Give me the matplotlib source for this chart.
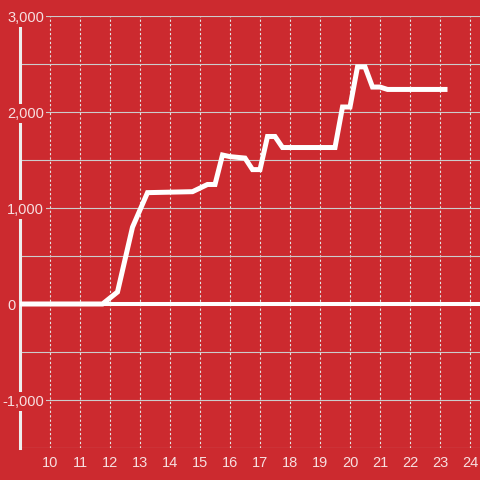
import matplotlib
matplotlib.use("Agg")
import matplotlib.pyplot as plt

# data (hour of day, value)
hours = [9.0, 11.75, 12.25, 12.75, 13.25, 14.75, 15.25, 15.5, 15.75, 16.0,
         16.5, 16.75, 17.0, 17.25, 17.5, 17.75, 19.5, 19.75, 20.0, 20.25,
         20.5, 20.75, 21.0, 21.25, 23.25]
values = [0, 0, 125, 800, 1160, 1170, 1245, 1245, 1552, 1535,
          1520, 1400, 1400, 1745, 1745, 1630, 1630, 2052, 2052, 2470,
          2470, 2260, 2260, 2235, 2235]

x_ticks = list(range(10, 25))
y_grid = list(range(-1500, 3001, 500))
y_labelled = [3000, 2000, 1000, 0, -1000]

bg = "#cc2a2f"
txt = "#f7dfe0"
plt.rcParams["font.family"] = ["Liberation Sans", "DejaVu Sans"]

fig = plt.figure(figsize=(4.8, 4.8), dpi=100, facecolor=bg)
ax = fig.add_axes([20 / 480, 32 / 480, 460 / 480, 432 / 480])
ax.set_facecolor(bg)
for s in ax.spines.values():
    s.set_visible(False)

ax.set_xlim(9.0, 9.0 + 460 / 30)
ax.set_ylim(-1500, 3000)
ax.set_xticks(x_ticks)
ax.set_yticks(y_grid)
ax.tick_params(length=0, labelleft=False, labelsize=10.5, labelcolor=txt, pad=13.7)
for lab in ax.get_xticklabels():
    lab.set_va("baseline")

ax.grid(axis="y", color="#cccccc", lw=0.8, zorder=1)
ax.grid(axis="x", color="#e4e4e4", lw=0.8, linestyle=(0, (2, 2)), zorder=1)
ax.set_axisbelow(True)

ax.axhline(0, color="white", lw=2.9, zorder=2)
ax.axvline(9.0, color="#eeeeee", lw=2.2, zorder=2, clip_on=False)

ax.plot(hours, values, color="white", lw=3.6, solid_joinstyle="miter",
        solid_capstyle="butt", zorder=3)

for v in y_labelled:
    dx = -17.6 if v < 0 else -13
    ax.annotate(f"{v:,}", xy=(0, v), xycoords=("axes fraction", "data"),
                xytext=(dx, -5.5), textcoords="offset pixels",
                ha="left", va="baseline", fontsize=10.5, color=txt,
                annotation_clip=False, zorder=5,
                bbox=dict(boxstyle="square,pad=0.15", fc=bg, ec="none"))

fig.savefig("out.png", dpi=100, facecolor=bg)
